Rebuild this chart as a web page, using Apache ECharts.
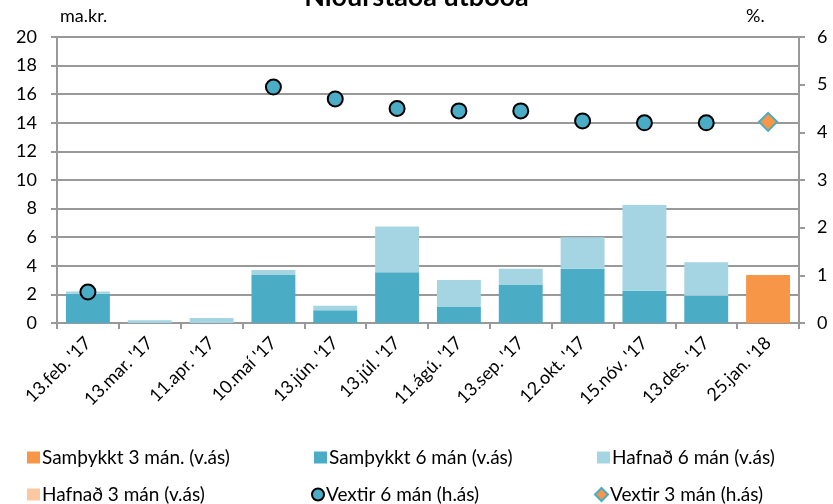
<!DOCTYPE html>
<html><head><meta charset="utf-8">
<script src="https://cdn.jsdelivr.net/npm/echarts@6/dist/echarts.min.js"></script>
<style>html,body{margin:0;padding:0;background:#fff}#c{width:833px;height:504px}</style>
</head><body><div id="c"></div>
<script>
var categories = ["13.feb. '17","13.mar. '17","11.apr. '17","10.maí '17","13.jún. '17","13.júl. '17","11.ágú. '17","13.sep. '17","12.okt. '17","15.nóv. '17","13.des. '17","25.jan. '18"];
var samthykkt3 = [null,null,null,null,null,null,null,null,null,null,null,3.35];
var samthykkt6 = [2.05,0,0,3.4,0.9,3.55,1.15,2.7,3.8,2.25,1.9,null];
var hafnad6 = [0.15,0.2,0.35,0.3,0.3,3.2,1.85,1.1,2.2,6.0,2.35,null];
var hafnad3 = [null,null,null,null,null,null,null,null,null,null,null,null];
var vextir6 = [0.65,null,null,4.95,4.7,4.5,4.45,4.45,4.24,4.2,4.2,null];
var vextir3 = [null,null,null,null,null,null,null,null,null,null,null,4.22];
var leftTicks = {min:0,max:20,interval:2};
var rightTicks = {min:0,max:6,interval:1};

var FONT = 'Lato';
var TXT = '#000';
var chart = echarts.init(document.getElementById('c'));
var cOrange = '#F79646', cTeal = '#4BACC6', cLight = '#A5D5E2', cLightOr = '#FBC8A2';
var legendText = {fontFamily:FONT,fontSize:19,color:TXT,padding:[0,0,0,-3]};
function lg(name, icon, x, y, size){
  return {orient:'horizontal',left:x,top:y,itemWidth:size||13,itemHeight:size||12,textStyle:legendText,data:[{name:name,icon:icon}],selectedMode:false};
}
chart.setOption({
  animation:false,
  title:{text:'Niðurstaða útboða',left:'center',top:-21,textStyle:{fontFamily:FONT,fontSize:27,fontWeight:'bold',color:TXT}},
  graphic:[
    {type:'text',left:60,top:7,style:{text:'ma.kr.',font:'18px '+FONT,fill:TXT}},
    {type:'text',left:746,top:7,style:{text:'%.',font:'18px '+FONT,fill:TXT}}
  ],
  grid:{left:57,right:34,top:37,bottom:181,containLabel:false},
  legend:[
    lg('Samþykkt 3 mán. (v.ás)','rect',22,443),
    lg('Hafnað 3 mán (v.ás)','rect',22,480),
    lg('Samþykkt 6 mán (v.ás)','rect',309,443),
    lg('Vextir 6 mán (h.ás)','circle',306,480,12),
    lg('Hafnað 6 mán (v.ás)','rect',592,443),
    lg('Vextir 3 mán (h.ás)','diamond',589,480,13)
  ],
  xAxis:{type:'category',data:categories,
    axisLine:{lineStyle:{color:'#999',width:2}},
    axisTick:{show:true,length:6,lineStyle:{color:'#999',width:2}},
    axisLabel:{rotate:45,margin:17,fontFamily:FONT,fontSize:18,color:TXT,interval:0}},
  yAxis:[
    {type:'value',min:leftTicks.min,max:leftTicks.max,interval:leftTicks.interval,
      axisLine:{show:true,lineStyle:{color:'#999',width:2}},
      axisTick:{show:true,length:6,lineStyle:{color:'#999',width:2}},
      splitLine:{lineStyle:{color:'#999',width:2}},
      axisLabel:{margin:20,fontFamily:FONT,fontSize:18,color:TXT}},
    {type:'value',min:rightTicks.min,max:rightTicks.max,interval:rightTicks.interval,position:'right',
      axisLine:{show:true,lineStyle:{color:'#999',width:2}},
      axisTick:{show:true,length:6,lineStyle:{color:'#999',width:2}},
      splitLine:{show:false},
      axisLabel:{margin:18,fontFamily:FONT,fontSize:18,color:TXT}}
  ],
  series:[
    {name:'Samþykkt 6 mán (v.ás)',type:'bar',stack:'a',data:samthykkt6,itemStyle:{color:cTeal},barCategoryGap:'29%'},
    {name:'Hafnað 6 mán (v.ás)',type:'bar',stack:'a',data:hafnad6,itemStyle:{color:cLight}},
    {name:'Samþykkt 3 mán. (v.ás)',type:'bar',stack:'a',data:samthykkt3,itemStyle:{color:cOrange}},
    {name:'Hafnað 3 mán (v.ás)',type:'bar',stack:'a',data:hafnad3,itemStyle:{color:cLightOr}},
    {name:'Vextir 6 mán (h.ás)',type:'line',yAxisIndex:1,data:vextir6,symbol:'circle',symbolSize:15,
      lineStyle:{width:0,opacity:0},itemStyle:{color:cTeal,borderColor:'#000',borderWidth:2},z:5},
    {name:'Vextir 3 mán (h.ás)',type:'line',yAxisIndex:1,data:vextir3,symbol:'diamond',symbolSize:18,
      lineStyle:{width:0,opacity:0},itemStyle:{color:cOrange,borderColor:cTeal,borderWidth:2},z:5}
  ]
});
</script></body></html>
